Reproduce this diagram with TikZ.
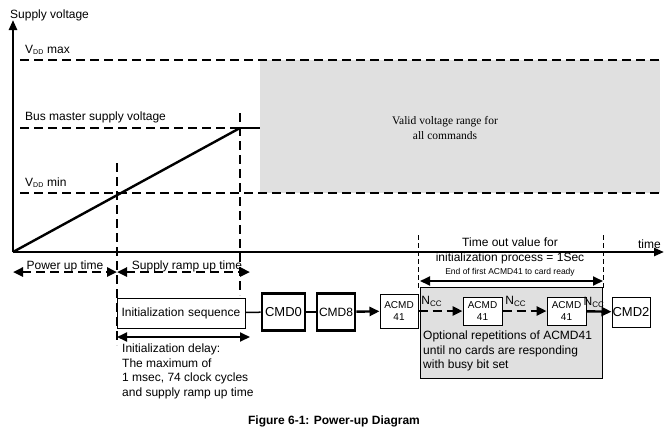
\documentclass[tikz,border=0pt]{standalone}
\usepackage{fontspec}
\setmainfont{Liberation Sans}
\newfontfamily\serifface{Liberation Serif}
\usetikzlibrary{arrows.meta}
\begin{document}
\begin{tikzpicture}[x=1pt,y=-1pt,font=\fontsize{12}{14.5}\selectfont,
  dashln/.style={dashed,dash pattern=on 9pt off 5pt,line width=2pt},
  cmdbox/.style={draw,minimum height=#1,inner sep=2pt,align=center,line width=1pt},
  heavy/.style={line width=2.6pt},
  arr/.style={-{Triangle[length=10pt,width=9pt]},line width=2.4pt},
  darr/.style={{Triangle[length=10pt,width=9pt]}-{Triangle[length=10pt,width=9pt]},line width=2.4pt}]
\useasboundingbox (0,0) rectangle (669,440);
% voltage window
\fill[black!12] (260,60) rectangle (660,193);
\node[font=\serifface\fontsize{11.5}{15}\selectfont,align=center] (valid) at (445,128) {Valid voltage range for\\all commands};
% axes
\coordinate (o) at (13,252);
\draw[line width=2.4pt,-{Triangle[length=10pt,width=8pt]}] (o) -- (13,20);
\draw[line width=2.4pt,-{Triangle[length=10pt,width=8pt]}] (o) -- (664,252);
\node[anchor=west,inner sep=0pt] (ylab) at (10,15) {Supply voltage};
\node[anchor=south east,inner sep=1pt] (tlab) at (662,250) {time};
% levels
\draw[dashln] (20,60) -- (660,60);
\draw[dashln] (20,128) -- (240,128);
\draw[line width=2pt] (240,128) -- (260,128);
\draw[dashln] (20,193) -- (660,193);
\node[anchor=south west,inner sep=1pt] (vmax) at (24,56) {V\textsubscript{\scriptsize DD} max};
\node[anchor=south west,inner sep=1pt] (vbus) at (24,124) {Bus master supply voltage};
\node[anchor=south west,inner sep=1pt] (vmin) at (24,189) {V\textsubscript{\scriptsize DD} min};
\draw[line width=2.4pt] (o) -- (240,128);
% time marks
\draw[dashln] (117,163) -- (117,345);
\draw[dashln] (240,113) -- (240,295);
\draw[line width=1pt,dash pattern=on 5pt off 3pt] (418,235) -- (418,290);
\draw[line width=1pt,dash pattern=on 5pt off 3pt] (603,235) -- (603,290);
\draw[darr,dash pattern=on 9pt off 5pt] (13,272) -- (117,272);
\draw[darr,dash pattern=on 9pt off 5pt] (117,272) -- (250,272);
\node[anchor=south] (pu) at (65,276) {Power up time};
\node[anchor=south] (sr) at (187,276) {Supply ramp up time};
\node[align=center] (tout) at (510,251) {Time out value for\\initialization process = 1Sec};
\node[font=\fontsize{8.5}{10}\selectfont] (endl) at (510,272) {End of first ACMD41 to card ready};
\draw[darr,line width=1.8pt] (420,281) -- (603,281);
% command sequence
\fill[black!12,draw=black,line width=1pt] (420,287) rectangle (602,378);
\node[anchor=north west,align=left,inner sep=1pt] (opt) at (422,330) {Optional repetitions of ACMD41\\until no cards are responding\\with busy bit set};
\node[draw,line width=1pt,anchor=west,minimum width=128pt,minimum height=30pt,inner sep=3pt,text width=120pt,align=left] (init) at (117,313) {Initialization sequence};
\node[cmdbox=37pt,heavy,minimum width=43pt,font=\fontsize{13}{14}\selectfont] (cmd0) at (283.5,312) {CMD0};
\node[cmdbox=37pt,heavy,minimum width=38pt] (cmd8) at (336,312) {CMD8};
\node[cmdbox=34pt,fill=white,minimum width=38pt,font=\fontsize{10}{11.5}\selectfont] (a1) at (399,311) {ACMD\\41};
\node[cmdbox=28pt,fill=white,minimum width=39pt,font=\fontsize{10}{11.5}\selectfont] (a2) at (482.5,311) {ACMD\\41};
\node[cmdbox=28pt,fill=white,minimum width=39pt,font=\fontsize{10}{11.5}\selectfont] (a3) at (566.5,311) {ACMD\\41};
\node[cmdbox=30pt,minimum width=38pt,inner sep=0pt,font=\fontsize{13}{14}\selectfont] (cmd2) at (631,312) {CMD2};
\draw[line width=1.5pt] (init) -- (cmd0);
\draw[line width=1.5pt] (cmd0) -- (cmd8);
\draw[arr] (cmd8) -- (a1);
\draw[arr,dash pattern=on 9pt off 5pt] (a1) -- node[above,pos=0.3,inner sep=3pt] {N\textsubscript{CC}} (a2);
\draw[arr,dash pattern=on 9pt off 5pt] (a2) -- node[above,pos=0.3,inner sep=3pt] {N\textsubscript{CC}} (a3);
\draw[arr] (a3) -- node[above,pos=0.3,inner sep=3pt] {N\textsubscript{CC}} (cmd2);
% initialization delay
\draw[darr,line width=1.8pt] (117,337) -- (250,337);
\node[anchor=north west,align=left,inner sep=1pt] (delay) at (121,343) {Initialization delay:\\The maximum of\\1 msec, 74 clock cycles\\and supply ramp up time};
\node[font=\bfseries\fontsize{12}{14}\selectfont] (cap) at (334,421) {Figure 6-1: Power-up Diagram};
\end{tikzpicture}
\end{document}
